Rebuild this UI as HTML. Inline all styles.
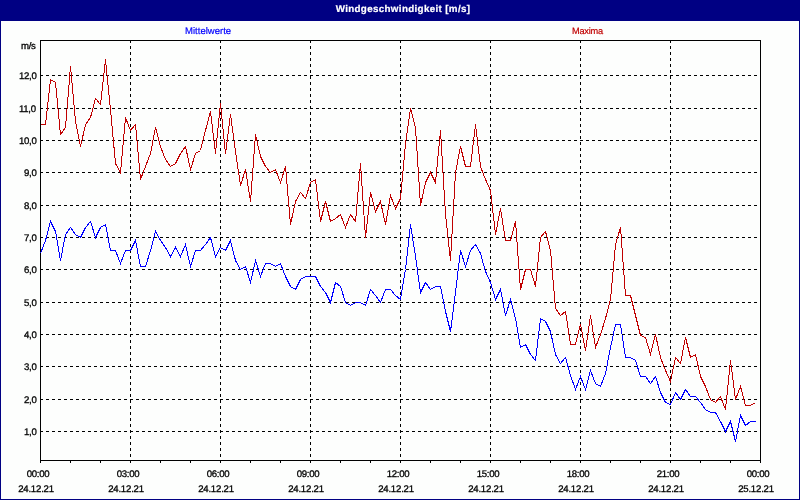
<!DOCTYPE html>
<html><head><meta charset="utf-8"><title>Windgeschwindigkeit</title>
<style>
html,body{margin:0;padding:0;}
body{width:800px;height:500px;overflow:hidden;background:#fdfefd;position:relative;font-family:"Liberation Sans",sans-serif;}
#frame{position:absolute;left:0;top:0;width:798px;height:499px;border-left:1px solid #000083;border-right:1px solid #000083;border-bottom:1px solid #000083;}
#bar{position:absolute;left:0;top:0;width:800px;height:21px;background:#000083;}
#title{position:absolute;left:6px;top:0;width:794px;height:21px;line-height:20px;-webkit-text-stroke:0.2px #fff;text-align:center;color:#fff;font-weight:bold;font-size:9.8px;letter-spacing:0.34px;white-space:nowrap;will-change:transform;text-rendering:geometricPrecision;}
.lbl{will-change:transform;position:absolute;font-size:9.6px;letter-spacing:-0.3px;color:#000;-webkit-text-stroke:0.3px #000;text-rendering:geometricPrecision;white-space:nowrap;line-height:10px;height:10px;}
.yl{right:764px;text-align:right;}
.xl{width:60px;text-align:center;}
.leg{will-change:transform;position:absolute;font-size:9.5px;white-space:nowrap;line-height:10px;height:10px;top:27px;letter-spacing:0.02px;text-rendering:geometricPrecision;-webkit-text-stroke:0.2px;}
svg{position:absolute;left:0;top:0;}
</style></head><body>
<div id="frame"></div>
<div id="bar"></div>
<div id="title">Windgeschwindigkeit [m/s]</div>
<div class="leg" style="left:185px;color:#0000ff;">Mittelwerte</div>
<div class="leg" style="left:572px;color:#c00000;font-size:9.2px;letter-spacing:-0.2px;top:26px;">Maxima</div>

<div class="lbl yl" style="top:42px;">m/s</div>
<div class="lbl yl" style="top:428px;">1,0</div>
<div class="lbl yl" style="top:396px;">2,0</div>
<div class="lbl yl" style="top:363px;">3,0</div>
<div class="lbl yl" style="top:331px;">4,0</div>
<div class="lbl yl" style="top:299px;">5,0</div>
<div class="lbl yl" style="top:266px;">6,0</div>
<div class="lbl yl" style="top:234px;">7,0</div>
<div class="lbl yl" style="top:202px;">8,0</div>
<div class="lbl yl" style="top:169px;">9,0</div>
<div class="lbl yl" style="top:137px;">10,0</div>
<div class="lbl yl" style="top:105px;">11,0</div>
<div class="lbl yl" style="top:72px;">12,0</div>
<div class="lbl xl" style="left:8px;top:470px;">00:00</div>
<div class="lbl xl" style="left:6px;top:485px;letter-spacing:-0.2px;">24.12.21</div>
<div class="lbl xl" style="left:98px;top:470px;">03:00</div>
<div class="lbl xl" style="left:96px;top:485px;letter-spacing:-0.2px;">24.12.21</div>
<div class="lbl xl" style="left:188px;top:470px;">06:00</div>
<div class="lbl xl" style="left:186px;top:485px;letter-spacing:-0.2px;">24.12.21</div>
<div class="lbl xl" style="left:278px;top:470px;">09:00</div>
<div class="lbl xl" style="left:276px;top:485px;letter-spacing:-0.2px;">24.12.21</div>
<div class="lbl xl" style="left:368px;top:470px;">12:00</div>
<div class="lbl xl" style="left:366px;top:485px;letter-spacing:-0.2px;">24.12.21</div>
<div class="lbl xl" style="left:458px;top:470px;">15:00</div>
<div class="lbl xl" style="left:456px;top:485px;letter-spacing:-0.2px;">24.12.21</div>
<div class="lbl xl" style="left:548px;top:470px;">18:00</div>
<div class="lbl xl" style="left:546px;top:485px;letter-spacing:-0.2px;">24.12.21</div>
<div class="lbl xl" style="left:638px;top:470px;">21:00</div>
<div class="lbl xl" style="left:636px;top:485px;letter-spacing:-0.2px;">24.12.21</div>
<div class="lbl xl" style="left:728px;top:470px;">00:00</div>
<div class="lbl xl" style="left:726px;top:485px;letter-spacing:-0.2px;">25.12.21</div>
<svg width="800" height="500" viewBox="0 0 800 500" shape-rendering="crispEdges">
<path d="M40,431.5H761M40,399.5H761M40,366.5H761M40,334.5H761M40,302.5H761M40,269.5H761M40,237.5H761M40,205.5H761M40,172.5H761M40,140.5H761M40,108.5H761M40,75.5H761M130.5,40V461M220.5,40V461M310.5,40V461M400.5,40V461M490.5,40V461M580.5,40V461M670.5,40V461" stroke="#000" stroke-width="1" stroke-dasharray="3,3" fill="none"/>
<path d="M40.5,40V463M760.5,40V463M40,40.5H761M40,460.5H761" stroke="#000" stroke-width="1" fill="none"/>
<path d="M70.5,460V463M100.5,460V463M130.5,460V463M160.5,460V463M190.5,460V463M220.5,460V463M250.5,460V463M280.5,460V463M310.5,460V463M340.5,460V463M370.5,460V463M400.5,460V463M430.5,460V463M460.5,460V463M490.5,460V463M520.5,460V463M550.5,460V463M580.5,460V463M610.5,460V463M640.5,460V463M670.5,460V463M700.5,460V463M730.5,460V463" stroke="#000" stroke-width="1" fill="none"/>
<polyline points="40.5,124.5 45.5,124.5 50.5,79.5 55.5,82.5 60.5,134.5 65.5,127.5 70.5,66.5 75.5,121.5 80.5,146.5 85.5,124.5 90.5,117.5 95.5,98.5 100.5,104.5 105.5,59.5 110.5,109.5 115.5,163.5 120.5,172.5 125.5,117.5 130.5,130.5 135.5,124.5 140.5,179.5 145.5,166.5 150.5,153.5 155.5,127.5 160.5,146.5 165.5,159.5 170.5,166.5 175.5,163.5 180.5,153.5 185.5,146.5 190.5,169.5 195.5,153.5 200.5,150.5 205.5,130.5 210.5,111.5 215.5,153.5 220.5,103.5 225.5,153.5 230.5,114.5 235.5,151.5 240.5,185.5 245.5,169.5 250.5,201.5 255.5,134.5 260.5,156.5 265.5,166.5 270.5,172.5 275.5,169.5 280.5,182.5 285.5,166.5 290.5,224.5 295.5,201.5 300.5,192.5 305.5,198.5 310.5,182.5 315.5,179.5 320.5,221.5 325.5,201.5 330.5,221.5 335.5,218.5 340.5,214.5 345.5,227.5 350.5,214.5 355.5,221.5 360.5,163.5 365.5,237.5 370.5,192.5 375.5,211.5 380.5,201.5 385.5,224.5 390.5,195.5 395.5,208.5 400.5,198.5 405.5,143.5 410.5,108.5 415.5,127.5 420.5,205.5 425.5,182.5 430.5,172.5 435.5,182.5 440.5,130.5 445.5,214.5 450.5,260.5 455.5,172.5 460.5,146.5 465.5,166.5 470.5,166.5 475.5,124.5 480.5,166.5 485.5,179.5 490.5,190.5 495.5,234.5 500.5,208.5 505.5,240.5 510.5,240.5 515.5,221.5 520.5,289.5 525.5,269.5 530.5,269.5 535.5,286.5 540.5,237.5 545.5,231.5 550.5,250.5 555.5,308.5 560.5,315.5 565.5,311.5 570.5,344.5 575.5,344.5 580.5,324.5 585.5,350.5 590.5,315.5 595.5,347.5 600.5,334.5 605.5,318.5 610.5,299.5 615.5,244.5 620.5,227.5 625.5,295.5 630.5,295.5 635.5,315.5 640.5,335.5 645.5,337.5 650.5,354.5 655.5,334.5 660.5,357.5 665.5,370.5 670.5,381.5 675.5,357.5 680.5,363.5 685.5,337.5 690.5,357.5 695.5,354.5 700.5,376.5 705.5,386.5 710.5,399.5 715.5,402.5 720.5,396.5 725.5,409.5 730.5,360.5 735.5,399.5 740.5,386.5 745.5,405.5 750.5,405.5 755.5,402.5" stroke="#c00000" stroke-width="1" fill="none"/>
<polyline points="40.5,253.5 45.5,240.5 50.5,221.5 55.5,231.5 60.5,260.5 65.5,234.5 70.5,227.5 75.5,234.5 80.5,237.5 85.5,227.5 90.5,221.5 95.5,237.5 100.5,227.5 105.5,224.5 110.5,250.5 115.5,250.5 120.5,263.5 125.5,250.5 130.5,250.5 135.5,240.5 140.5,266.5 145.5,266.5 150.5,250.5 155.5,231.5 160.5,240.5 165.5,247.5 170.5,256.5 175.5,247.5 180.5,256.5 185.5,244.5 190.5,266.5 195.5,250.5 200.5,250.5 205.5,244.5 210.5,237.5 215.5,256.5 220.5,247.5 225.5,250.5 230.5,240.5 235.5,260.5 240.5,269.5 245.5,266.5 250.5,282.5 255.5,260.5 260.5,276.5 265.5,263.5 270.5,263.5 275.5,266.5 280.5,263.5 285.5,276.5 290.5,286.5 295.5,289.5 300.5,279.5 305.5,276.5 310.5,276.5 315.5,276.5 320.5,286.5 325.5,292.5 330.5,302.5 335.5,282.5 340.5,286.5 345.5,302.5 350.5,305.5 355.5,302.5 360.5,302.5 365.5,305.5 370.5,289.5 375.5,295.5 380.5,302.5 385.5,289.5 390.5,289.5 395.5,295.5 400.5,299.5 405.5,269.5 410.5,224.5 415.5,256.5 420.5,292.5 425.5,282.5 430.5,289.5 435.5,286.5 440.5,286.5 445.5,311.5 450.5,331.5 455.5,292.5 460.5,250.5 465.5,266.5 470.5,250.5 475.5,244.5 480.5,253.5 485.5,271.5 490.5,282.5 495.5,299.5 500.5,289.5 505.5,315.5 510.5,299.5 515.5,318.5 520.5,347.5 525.5,344.5 530.5,354.5 535.5,360.5 540.5,318.5 545.5,321.5 550.5,331.5 555.5,354.5 560.5,363.5 565.5,357.5 570.5,375.5 575.5,389.5 580.5,376.5 585.5,389.5 590.5,370.5 595.5,383.5 600.5,386.5 605.5,373.5 610.5,347.5 615.5,324.5 620.5,324.5 625.5,357.5 630.5,357.5 635.5,360.5 640.5,376.5 645.5,376.5 650.5,383.5 655.5,376.5 660.5,392.5 665.5,402.5 670.5,404.5 675.5,392.5 680.5,399.5 685.5,389.5 690.5,396.5 695.5,396.5 700.5,402.5 705.5,409.5 710.5,412.5 715.5,412.5 720.5,421.5 725.5,431.5 730.5,421.5 735.5,441.5 740.5,415.5 745.5,425.5 750.5,421.5 755.5,421.5" stroke="#0000ff" stroke-width="1" fill="none"/>
</svg>
</body></html>
